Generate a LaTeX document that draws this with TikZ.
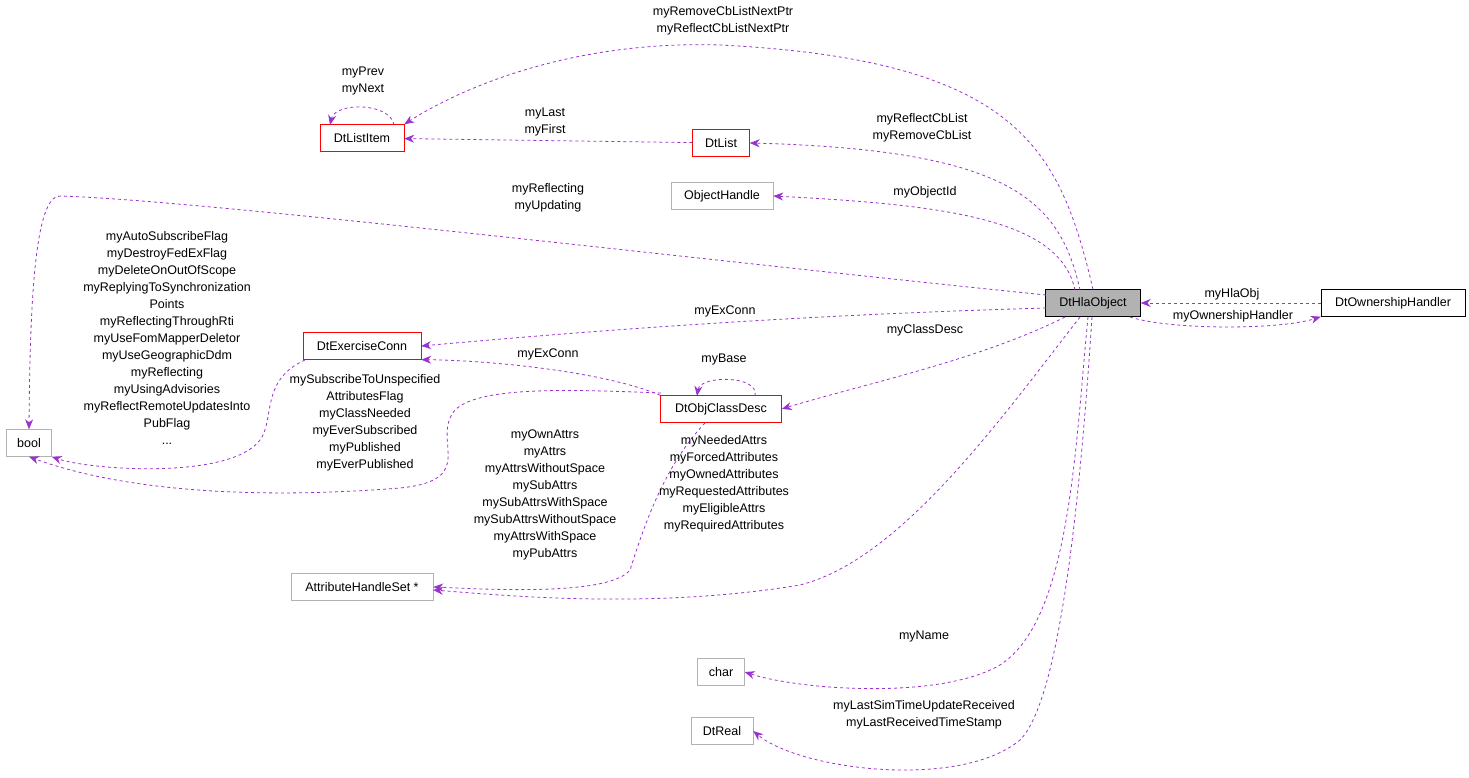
\documentclass[tikz,border=0pt]{standalone}
\usepackage{fontspec}
\setmainfont{Liberation Sans}
\usetikzlibrary{arrows.meta}
\begin{document}
\begin{tikzpicture}[x=1pt,y=-1pt,
  box/.style={draw,minimum height=27pt,inner sep=2pt,font=\fontsize{12.5}{17}\selectfont},
  red/.style={box,draw=red},
  gray/.style={box,draw=black!30},
  lab/.style={font=\fontsize{12.5}{17}\selectfont,align=center,inner sep=0pt}]
\useasboundingbox (0,0) rectangle (1469,778);
\tikzset{e/.style={draw={rgb,255:red,154;green,50;blue,205},dashed,-{Stealth[length=10pt,width=8pt]},line width=0.8pt}}
\node[box,fill=black!30,minimum width=95pt] (hla) at (1093,303) {DtHlaObject};
\node[box,minimum width=144pt] (own) at (1393,303) {DtOwnershipHandler};
\node[red,minimum width=84pt] (li) at (362,138) {DtListItem};
\node[red,minimum width=57pt] (dl) at (721,143) {DtList};
\node[gray,minimum width=102pt] (oh) at (722,196) {ObjectHandle};
\node[gray,minimum width=45pt] (bool) at (29,443) {bool};
\node[red,minimum width=118pt] (ex) at (362,346) {DtExerciseConn};
\node[red,minimum width=121pt] (oc) at (721,409) {DtObjClassDesc};
\node[gray,minimum width=142pt] (ahs) at (362,587) {AttributeHandleSet *};
\node[gray,minimum width=47pt] (ch) at (721,672) {char};
\node[gray,minimum width=62pt] (dr) at (722,731) {DtReal};

\draw[e] (hla.north) .. controls (1060,150) and (1020,60) .. (720,45) .. controls (560,40) and (450,95) .. (li.north east);
\node[lab] at (723,21) {myRemoveCbListNextPtr\\myReflectCbListNextPtr};
\draw[e] (394,125) .. controls (390,102) and (335,102) .. (330,125);
\node[lab] at (363,81) {myPrev\\myNext};
\draw[e] (dl) -- (li);
\node[lab] at (545,122) {myLast\\myFirst};
\draw[e] (1080,290) .. controls (1060,200) and (1010,150) .. (dl.east);
\node[lab] at (922,128) {myReflectCbList\\myRemoveCbList};
\draw[e] (1075,290) .. controls (1060,220) and (950,205) .. (oh.east);
\node[lab] at (925,192) {myObjectId};
\draw[e] (1046,295) .. controls (700,260) and (200,200) .. (60,196) .. controls (35,196) and (30,300) .. (bool.north);
\node[lab] at (548,198) {myReflecting\\myUpdating};
\draw[e] (1046,308) .. controls (800,315) and (600,330) .. (ex.east);
\node[lab] at (725,311) {myExConn};
\draw[e] (own.west) -- (hla.east);
\node[lab] at (1232,294) {myHlaObj};
\draw[e] (1130,317) .. controls (1170,330) and (1280,330) .. (own.south west);
\node[lab] at (1233,316) {myOwnershipHandler};
\draw[e] (1065,317) .. controls (980,360) and (860,385) .. (oc.east);
\node[lab] at (925,330) {myClassDesc};
\draw[e] (oc.north west) .. controls (600,370) and (480,360) .. (ex.south east);
\node[lab] at (548,354) {myExConn};
\draw[e] (755,396) .. controls (760,375) and (700,375) .. (697,396);
\node[lab] at (724,359) {myBase};
\draw[e] (305,360) .. controls (260,380) and (275,420) .. (260,440) .. controls (230,480) and (90,470) .. (bool.south east);
\node[lab] at (167,338) {myAutoSubscribeFlag\\myDestroyFedExFlag\\myDeleteOnOutOfScope\\myReplyingToSynchronization\\Points\\myReflectingThroughRti\\myUseFomMapperDeletor\\myUseGeographicDdm\\myReflecting\\myUsingAdvisories\\myReflectRemoteUpdatesInto\\PubFlag\\...};
\draw[e] (661,393) .. controls (580,390) and (480,385) .. (455,410) .. controls (430,440) and (480,480) .. (400,488) .. controls (250,500) and (120,490) .. (bool.south);
\node[lab] at (365,423) {mySubscribeToUnspecified\\AttributesFlag\\myClassNeeded\\myEverSubscribed\\myPublished\\myEverPublished};
\draw[e] (705,423) .. controls (660,470) and (640,540) .. (630,570) .. controls (610,595) and (500,590) .. (ahs.east);
\node[lab] at (545,495) {myOwnAttrs\\myAttrs\\myAttrsWithoutSpace\\mySubAttrs\\mySubAttrsWithSpace\\mySubAttrsWithoutSpace\\myAttrsWithSpace\\myPubAttrs};
\draw[e] (1080,317) .. controls (1000,420) and (900,560) .. (800,585) .. controls (650,610) and (500,595) .. (433,590);
\node[lab] at (724,484) {myNeededAttrs\\myForcedAttributes\\myOwnedAttributes\\myRequestedAttributes\\myEligibleAttrs\\myRequiredAttributes};
\draw[e] (1088,317) .. controls (1075,450) and (1070,620) .. (1000,665) .. controls (940,700) and (800,690) .. (ch.east);
\node[lab] at (924,636) {myName};
\draw[e] (1092,317) .. controls (1080,500) and (1060,700) .. (1020,740) .. controls (960,790) and (800,770) .. (dr.east);
\node[lab] at (924,715) {myLastSimTimeUpdateReceived\\myLastReceivedTimeStamp};
\end{tikzpicture}
\end{document}
